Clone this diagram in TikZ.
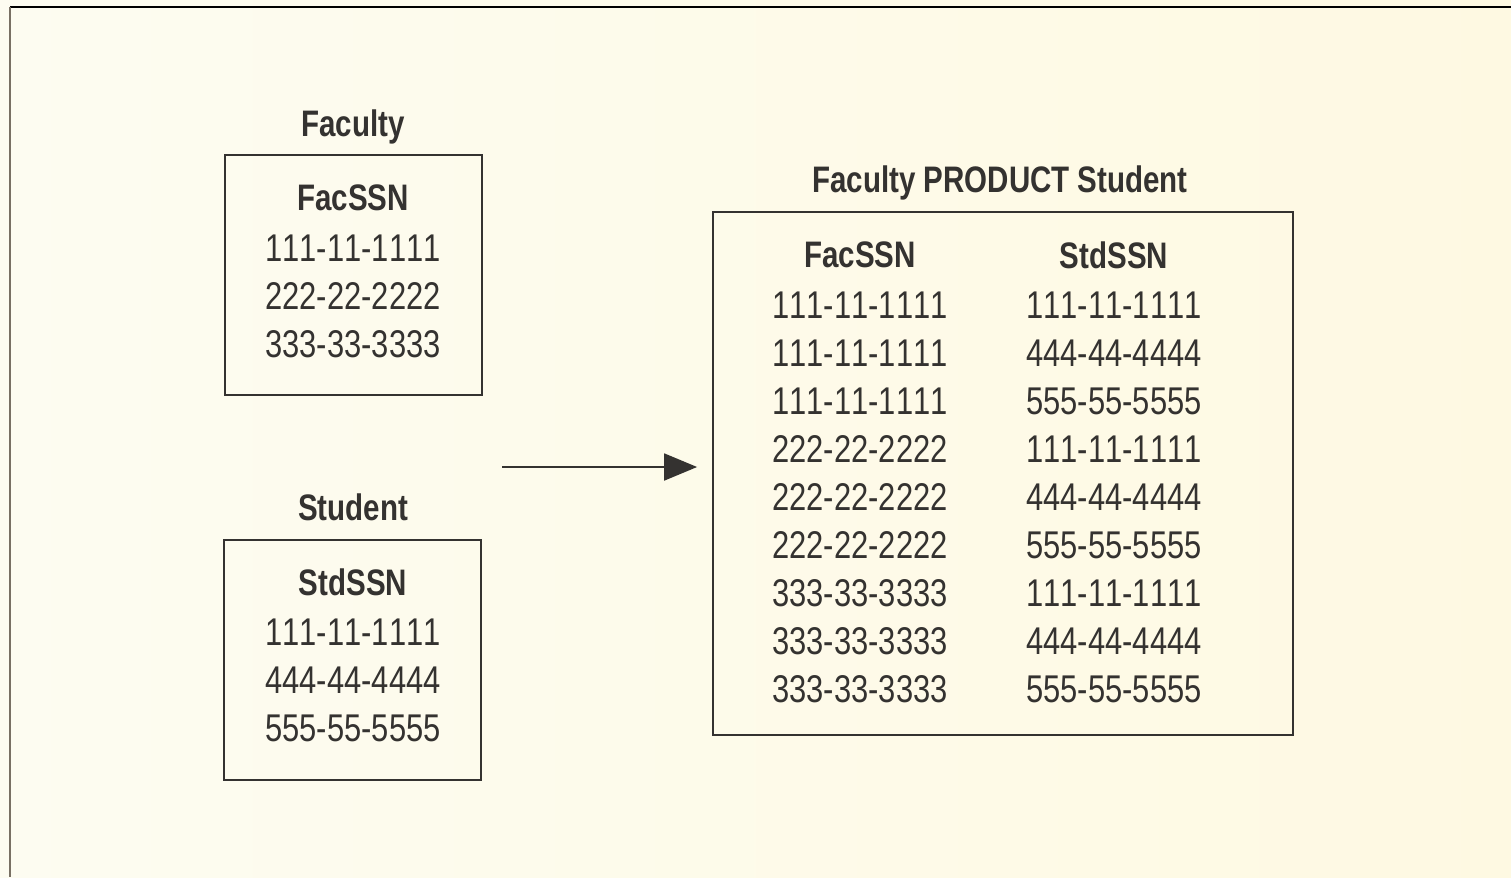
\documentclass[tikz,border=0pt]{standalone}
\usepackage{fontspec}
\setmainfont{Liberation Sans}[FakeStretch=0.8, Kerning=Off]
\usepackage{tikz}
\usetikzlibrary{positioning, arrows.meta}
\definecolor{paper}{RGB}{253,252,241}
\definecolor{paperright}{RGB}{254,249,226}
\definecolor{ink}{RGB}{52,50,48}
\definecolor{frameline}{RGB}{120,112,100}

\begin{document}
\begin{tikzpicture}[x=0.02cm, y=-0.02cm,
                    table/.style={rectangle, draw=ink, line width=1.1pt, inner sep=0pt},
                    title/.style={anchor=base, text=ink, font=\fontsize{21}{24}\selectfont\bfseries},
                    colhead/.style={text=ink, font=\fontsize{21}{24}\selectfont\bfseries},
                    cell/.style={text=ink, font=\fontsize{22}{24}\selectfont},
                    link/.style={-{Triangle[length=0.66cm, width=0.54cm]}, draw=ink, line width=1.1pt}]
            % Page
            \useasboundingbox (0,0) rectangle (1511,877);
            \shade[left color=paper, right color=paperright] (0,0) rectangle (1511,877);
            \draw[black, line width=1pt] (10,7) -- (1511,7);
            \draw[frameline, line width=1pt] (10,7) -- (10,877);

            % Faculty Table
            \node[table, minimum width=5.14cm, minimum height=4.8cm] (facbox) at (353.5,275) {};
            \node[title] (factitle) at (353,136) {Faculty};
            \node[colhead] (facssn) at (353,198) {FacSSN};
            \begin{scope}[on grid, node distance=0.96cm]
            \node[cell] (fac1) [below=1cm of facssn] {111-11-1111};
            \node[cell] (fac2) [below=of fac1] {222-22-2222};
            \node[cell] (fac3) [below=of fac2] {333-33-3333};
            \end{scope}

            % Student Table
            \node[table, minimum width=5.14cm, minimum height=4.8cm] (stdbox) at (352.5,660) {};
            \node[title] (stdtitle) at (353,520) {Student};
            \node[colhead] (stdssn) at (353,582) {StdSSN};
            \begin{scope}[on grid, node distance=0.96cm]
            \node[cell] (std1) [below=1cm of stdssn] {111-11-1111};
            \node[cell] (std2) [below=of std1] {444-44-4444};
            \node[cell] (std3) [below=of std2] {555-55-5555};
            \end{scope}

            % Product Table
            \node[table, minimum width=11.6cm, minimum height=10.46cm] (prodbox) at (1003,473.5) {};
            \node[title] (prodtitle) at (1000,192) {Faculty PRODUCT Student};
            \node[colhead] (pfac) at (860,255) {FacSSN};
            \node[colhead] (pstd) at (1114,255) {StdSSN};
            \begin{scope}[on grid, node distance=0.96cm]
            \node[cell] (pfac1) [below=1cm of pfac] {111-11-1111};
            \node[cell] (pfac2) [below=of pfac1] {111-11-1111};
            \node[cell] (pfac3) [below=of pfac2] {111-11-1111};
            \node[cell] (pfac4) [below=of pfac3] {222-22-2222};
            \node[cell] (pfac5) [below=of pfac4] {222-22-2222};
            \node[cell] (pfac6) [below=of pfac5] {222-22-2222};
            \node[cell] (pfac7) [below=of pfac6] {333-33-3333};
            \node[cell] (pfac8) [below=of pfac7] {333-33-3333};
            \node[cell] (pfac9) [below=of pfac8] {333-33-3333};
            \node[cell] (pstd1) [below=1cm of pstd] {111-11-1111};
            \node[cell] (pstd2) [below=of pstd1] {444-44-4444};
            \node[cell] (pstd3) [below=of pstd2] {555-55-5555};
            \node[cell] (pstd4) [below=of pstd3] {111-11-1111};
            \node[cell] (pstd5) [below=of pstd4] {444-44-4444};
            \node[cell] (pstd6) [below=of pstd5] {555-55-5555};
            \node[cell] (pstd7) [below=of pstd6] {111-11-1111};
            \node[cell] (pstd8) [below=of pstd7] {444-44-4444};
            \node[cell] (pstd9) [below=of pstd8] {555-55-5555};
            \end{scope}

            % Arrow
            \coordinate (arrowstart) at (502,467);
            \draw[link, shorten >=0.3cm] (arrowstart) -- (arrowstart -| prodbox.west);
        \end{tikzpicture}
\end{document}
